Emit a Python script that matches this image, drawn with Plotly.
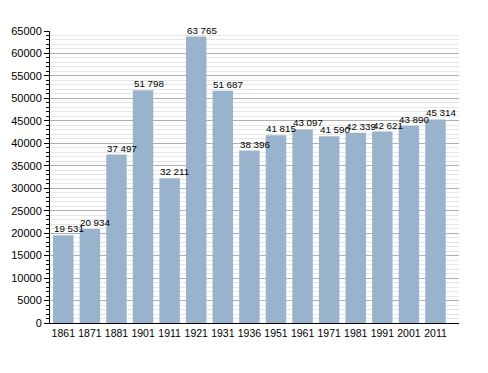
import plotly.graph_objects as go

years = ["1861", "1871", "1881", "1901", "1911", "1921", "1931", "1936",
         "1951", "1961", "1971", "1981", "1991", "2001", "2011"]
population = [19531, 20934, 37497, 51798, 32211, 63765, 51687, 38396,
              41815, 43097, 41590, 42339, 42621, 43890, 45314]
labels = [f"{v:,}".replace(",", " ") for v in population]

FONT = "Liberation Sans, Arial"

fig = go.Figure(go.Bar(
    x=years, y=population,
    marker=dict(color="#9ab3cc", line=dict(width=0)),
    cliponaxis=False,
))

# category axis: annotation x given as category index
for i, (v, t) in enumerate(zip(population, labels)):
    fig.add_annotation(
        x=i, y=v, text=t, showarrow=False,
        xanchor="left", yanchor="bottom", xshift=-11.5, yshift=-1,
        font=dict(size=9.8, color="#000000", family=FONT),
    )

# page body has an 8px default margin, so the figure is sized to fit inside
fig.update_layout(
    template="none",
    width=480, height=365,
    margin=dict(l=42, r=29, t=23, b=50, autoexpand=False),
    paper_bgcolor="white", plot_bgcolor="white",
    bargap=0.23,
    showlegend=False,
    font=dict(family=FONT, size=11, color="#000000"),
)
fig.update_xaxes(
    type="category", automargin=False, showline=True, linecolor="#000000", linewidth=1,
    ticks="", showgrid=False, tickfont=dict(size=10.5),
)
fig.update_yaxes(
    range=[0, 65000], dtick=5000, tickformat="d", automargin=False,
    showline=True, linecolor="#000000", linewidth=1,
    ticks="outside", ticklen=5, tickcolor="#000000",
    showgrid=True, gridcolor="#b0b0b0", gridwidth=1,
    minor=dict(dtick=1000, showgrid=True, gridcolor="#e6e6e6", ticks="outside",
               ticklen=3, tickcolor="#000000"),
    tickfont=dict(size=11), zeroline=False,
)

fig.write_html("out.html")
